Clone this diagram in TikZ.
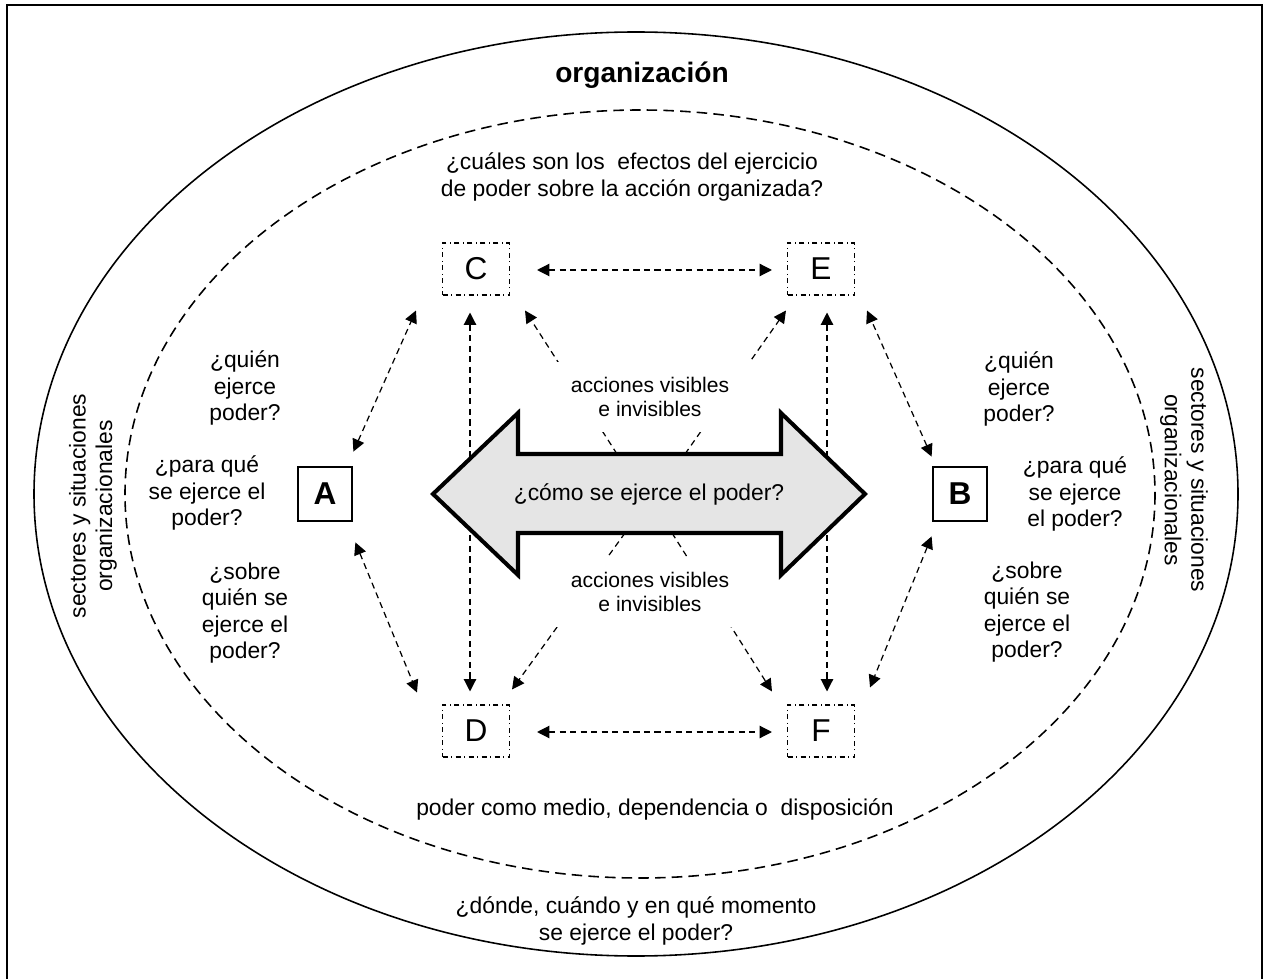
\documentclass[tikz,border=0pt]{standalone}
\usepackage{fontspec}
\setmainfont{Liberation Sans}
\usetikzlibrary{arrows.meta,calc}

\begin{document}
\begin{tikzpicture}[x=0.02cm, y=-0.02cm,
    letter/.style={rectangle, draw, dash dot, line width=0.6pt, minimum width=1.34cm, minimum height=1.04cm, font=\fontsize{18}{20}\selectfont},
    actor/.style={rectangle, draw, line width=1.6pt, minimum size=1.08cm, font=\fontsize{18}{20}\selectfont\bfseries},
    question/.style={align=center, font=\fontsize{13}{15}\selectfont},
    note/.style={align=center, fill=white, minimum width=4.2cm, minimum height=1.4cm, font=\fontsize{12}{14}\selectfont},
    link/.style={dash pattern=on 3.5pt off 2.5pt, line width=0.7pt, {Triangle[length=7pt,width=7pt]}-{Triangle[length=7pt,width=7pt]}},
    flow/.style={dash pattern=on 3.5pt off 2.5pt, line width=0.7pt, -{Triangle[length=7pt,width=7pt]}}
]
    \useasboundingbox (0,0) rectangle (1264,979);

    % Marco y elipses
    \draw[line width=1.4pt] (7,979) -- (7,5) -- (1262,5) -- (1262,979);
    \draw[line width=0.9pt] (636,494) ellipse [x radius=602, y radius=462];
    \draw[line width=0.9pt, dash pattern=on 6pt off 3.5pt] (640,494) ellipse [x radius=515, y radius=384];

    % Textos
    \node[font=\fontsize{16}{18}\selectfont\bfseries] (org) at (642,75) {organización};
    \node[question] (effects) at (632,177) {¿cuáles son los\ \ efectos del ejercicio\\de poder sobre la acción organizada?};
    \node[question] (means) at (655,809) {poder como medio, dependencia o\ \ disposición};
    \node[question] (where) at (636,921) {¿dónde, cuándo y en qué momento\\se ejerce el poder?};
    \node[question, rotate=90] (sectL) at (93,506) {sectores y situaciones\\organizacionales};
    \node[question, rotate=-90] (sectR) at (1184,480) {sectores y situaciones\\organizacionales};

    \node[question] (whoL) at (245,388) {¿quién\\ejerce\\poder?};
    \node[question] (whyL) at (207,493) {¿para qué\\se ejerce el\\poder?};
    \node[question] (whomL) at (245,613) {¿sobre\\quién se\\ejerce el\\poder?};
    \node[question] (whoR) at (1019,389) {¿quién\\ejerce\\poder?};
    \node[question] (whyR) at (1075,494) {¿para qué\\se ejerce\\el poder?};
    \node[question] (whomR) at (1027,612) {¿sobre\\quién se\\ejerce el\\poder?};

    % Cajas
    \node[actor] (A) at (325,494) {A};
    \node[actor] (B) at (960,494) {B};
    \node[letter] (C) at (476,269) {C};
    \node[letter] (E) at (821,269) {E};
    \node[letter] (D) at (476,731) {D};
    \node[letter] (F) at (821,731) {F};

    % Flechas
    \draw[link] ($(C.east)+(27,1)$) -- ($(E.west)+(-15,1)$);
    \draw[link] ($(D.east)+(27,1)$) -- ($(F.west)+(-15,1)$);
    \draw[link] ($(C.south)+(-6,17)$) -- ($(D.north)+(-6,-13)$);
    \draw[link] ($(E.south)+(6,17)$) -- ($(F.north)+(6,-13)$);
    \draw[link] ($(A.north east)+(0,-14)$) -- ($(C.south west)+(-26,15)$);
    \draw[link] ($(A.south east)+(2,20)$) -- ($(D.north west)+(-25,-12)$);
    \draw[link] ($(B.north west)+(0,-9)$) -- ($(E.south east)+(12,15)$);
    \draw[link] ($(B.south west)+(0,14)$) -- ($(F.north east)+(15,-17)$);

    \coordinate (hub) at (649,494);
    \draw[flow] ($(hub)+(-32,-40)$) -- ($(C.south east)+(15,15)$);
    \draw[flow] ($(hub)+(36,-40)$) -- ($(E.south west)+(-1,15)$);
    \draw[flow] ($(hub)+(-24,39)$) -- ($(D.north east)+(2,-15)$);
    \draw[flow] ($(hub)+(23,39)$) -- ($(F.north west)+(-15,-13)$);

    % Flecha doble central
    \draw[line width=2.3pt, fill=gray!20, miter limit=10] (433,494) -- (518,413) -- (518,454) -- (781,454) -- (781,413) -- (865,494) -- (781,575) -- (781,533) -- (518,533) -- (518,575) -- cycle;
    \node[question] (how) at (hub) {¿cómo se ejerce el poder?};

    \node[note] (actTop) at (650,397) {acciones visibles\\e invisibles};
    \node[note] (actBot) at (650,592) {acciones visibles\\e invisibles};

\end{tikzpicture}
\end{document}
